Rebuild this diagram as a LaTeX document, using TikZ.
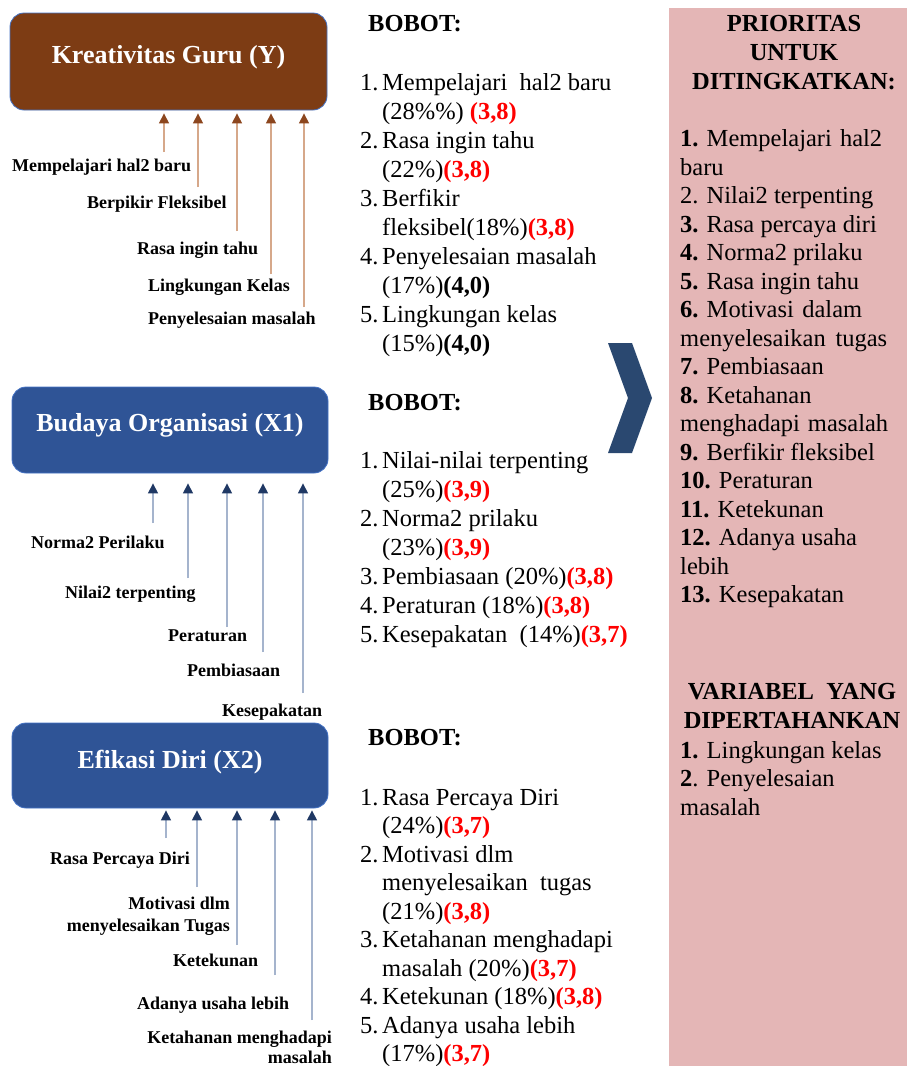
\documentclass[tikz,border=0pt]{standalone}
\usepackage{fontspec}
\setmainfont{Liberation Serif}
\usetikzlibrary{arrows.meta}
\definecolor{brownfill}{RGB}{125,60,20}
\definecolor{bluefill}{RGB}{47,84,150}
\definecolor{boxedge}{RGB}{68,114,196}
\definecolor{brownhead}{RGB}{140,70,30}
\definecolor{brownline}{RGB}{214,168,138}
\definecolor{bluehead}{RGB}{31,56,100}
\definecolor{blueline}{RGB}{165,180,205}
\definecolor{chev}{RGB}{42,72,112}
\definecolor{pinkpanel}{RGB}{228,182,182}
\definecolor{valred}{RGB}{255,0,0}
\newcommand\lnum[1]{\makebox[22pt][l]{#1}}
\newcommand\lcont{\hspace*{22pt}}
\newcommand\redval[1]{\textcolor{valred}{\textbf{#1}}}
\begin{document}
\begin{tikzpicture}[x=1pt,y=-1pt,
  varbox/.style={draw=boxedge, line width=0.8pt, rounded corners=14pt, inner sep=0pt},
  boxlabel/.style={text=white, font=\fontsize{26}{30}\selectfont\bfseries, inner sep=0pt, anchor=base},
  ind/.style={font=\fontsize{18}{22}\selectfont\bfseries, inner sep=0pt, anchor=base west},
  indr/.style={font=\fontsize{18}{22}\selectfont\bfseries, inner sep=0pt, anchor=base east},
  brarr/.style={draw=brownline, line width=1.3pt, -{Triangle[length=10pt,width=10pt,color=brownhead]}},
  blarr/.style={draw=blueline, line width=1.3pt, -{Triangle[length=10pt,width=10pt,color=bluehead]}},
  bobot/.style={font=\fontsize{24.5}{29}\selectfont\bfseries, inner sep=0pt, anchor=base west},
  list/.style={font=\fontsize{24.5}{29}\selectfont, align=left, inner sep=0pt, anchor=base west},
  plist/.style={font=\fontsize{24.5}{28.5}\selectfont, align=left, inner sep=0pt, anchor=base west},
  phead/.style={font=\fontsize{24.5}{29}\selectfont\bfseries, align=center, inner sep=0pt, anchor=base},
]
\fill[white] (0,0) rectangle (907,1066);
\useasboundingbox (0,0) rectangle (907,1066);

% right panel
\node[fill=pinkpanel, minimum width=238pt, minimum height=1058pt, inner sep=0pt, anchor=north west] (panel) at (669,8) {};

% variable boxes
\node[varbox, fill=brownfill, minimum width=317pt, minimum height=97pt] (Y) at (168.5,61.5) {};
\node[boxlabel] (Ylab) at (168.5,63.5) {Kreativitas Guru (Y)};
\node[varbox, fill=bluefill, minimum width=316pt, minimum height=86pt] (X1) at (170,430) {};
\node[boxlabel] (X1lab) at (170,431.5) {Budaya Organisasi (X1)};
\node[varbox, fill=bluefill, minimum width=316pt, minimum height=85pt] (X2) at (170,765.5) {};
\node[boxlabel] (X2lab) at (170,768.5) {Efikasi Diri (X2)};

% indicators of Y
\node[ind] (y1l) at (12,171) {Mempelajari hal2 baru};
\node[ind] (y2l) at (87,208) {Berpikir Fleksibel};
\node[ind] (y3l) at (137,254) {Rasa ingin tahu};
\node[ind] (y4l) at (148,291) {Lingkungan Kelas};
\node[ind] (y5l) at (148,324) {Penyelesaian masalah};
\coordinate (y1) at (164,152);
\coordinate (y2) at (198,187);
\coordinate (y3) at (237,231);
\coordinate (y4) at (271,274);
\coordinate (y5) at (304,307);
\foreach \c in {y1,y2,y3,y4,y5}
  \draw[brarr, shorten >=3pt] (\c) -- (\c |- Y.south);

% indicators of X1
\node[ind] (a1l) at (31,548) {Norma2 Perilaku};
\node[ind] (a2l) at (65,598) {Nilai2 terpenting};
\node[ind] (a3l) at (168,641) {Peraturan};
\node[ind] (a4l) at (187,676) {Pembiasaan};
\node[ind] (a5l) at (222,716) {Kesepakatan};
\coordinate (a1) at (153,523);
\coordinate (a2) at (188,578);
\coordinate (a3) at (227,627);
\coordinate (a4) at (263,652);
\coordinate (a5) at (303,693);
\foreach \c in {a1,a2,a3,a4,a5}
  \draw[blarr, shorten >=10pt] (\c) -- (\c |- X1.south);

% indicators of X2
\node[ind] (e1l) at (50,864) {Rasa Percaya Diri};
\node[indr] (e2l) at (230,909) {Motivasi dlm};
\node[indr] (e2m) at (230,931) {menyelesaikan Tugas};
\node[ind] (e3l) at (173,966) {Ketekunan};
\node[ind] (e4l) at (137,1009) {Adanya usaha lebih};
\node[indr] (e5l) at (332,1043) {Ketahanan menghadapi};
\node[indr] (e5m) at (332,1063) {masalah};
\coordinate (e1) at (166,838);
\coordinate (e2) at (197,887);
\coordinate (e3) at (237,945);
\coordinate (e4) at (275,975);
\coordinate (e5) at (312,1020);
\foreach \c in {e1,e2,e3,e4,e5}
  \draw[blarr, shorten >=2pt] (\c) -- (\c |- X2.south);

% weights (multi-line nodes: base = baseline of last line)
\node[bobot] (b1) at (368,31) {BOBOT:};
\node[list] (w1) at (360,351) {\lnum{1.}Mempelajari\ \ hal2 baru\\
\lcont(28\%\%) \redval{(3,8)}\\
\lnum{2.}Rasa ingin tahu\\
\lcont(22\%)\redval{(3,8)}\\
\lnum{3.}Berfikir\\
\lcont fleksibel(18\%)\redval{(3,8)}\\
\lnum{4.}Penyelesaian masalah\\
\lcont(17\%)\textbf{(4,0)}\\
\lnum{5.}Lingkungan kelas\\
\lcont(15\%)\textbf{(4,0)}};

\node[bobot] (b2) at (368,410) {BOBOT:};
\node[list] (w2) at (360,642) {\lnum{1.}Nilai-nilai terpenting\\
\lcont(25\%)\redval{(3,9)}\\
\lnum{2.}Norma2 prilaku\\
\lcont(23\%)\redval{(3,9)}\\
\lnum{3.}Pembiasaan (20\%)\redval{(3,8)}\\
\lnum{4.}Peraturan (18\%)\redval{(3,8)}\\
\lnum{5.}Kesepakatan\ \ (14\%)\redval{(3,7)}};

\node[bobot] (b3) at (368,745) {BOBOT:};
\node[plist] (w3) at (360,1061.5) {\lnum{1.}Rasa Percaya Diri\\
\lcont(24\%)\redval{(3,7)}\\
\lnum{2.}Motivasi dlm\\
\lcont menyelesaikan\ \ tugas\\
\lcont(21\%)\redval{(3,8)}\\
\lnum{3.}Ketahanan menghadapi\\
\lcont masalah (20\%)\redval{(3,7)}\\
\lnum{4.}Ketekunan (18\%)\redval{(3,8)}\\
\lnum{5.}Adanya usaha lebih\\
\lcont(17\%)\redval{(3,7)}};

% chevron
\fill[chev] (608,343) -- (632,343) -- (652,398) -- (632,453) -- (608,453) -- (628,398) -- cycle;

% priorities
\node[phead] (ph) at (794,89) {PRIORITAS\\UNTUK\\DITINGKATKAN:};
\node[plist] (pl) at (680,602.5) {\makebox[202pt][l]{\textbf{1.} Mempelajari\hfill hal2}\\
baru\\
2. Nilai2 terpenting\\
\textbf{3.} Rasa percaya diri\\
\textbf{4.} Norma2 prilaku\\
\textbf{5.} Rasa ingin tahu\\
\makebox[182pt][l]{\textbf{6.} Motivasi\hfill dalam}\\
\makebox[207pt][s]{menyelesaikan tugas}\\
\textbf{7.} Pembiasaan\\
\textbf{8.} Ketahanan\\
\makebox[208pt][s]{menghadapi masalah}\\
\textbf{9.} Berfikir fleksibel\\
\textbf{10.} Peraturan\\
\textbf{11.} Ketekunan\\
\textbf{12.} Adanya usaha\\
lebih\\
\textbf{13.} Kesepakatan};

\node[phead] (vh) at (792,728.5) {VARIABEL\ \ YANG\\DIPERTAHANKAN};
\node[plist] (vl) at (680,815) {\textbf{1.} Lingkungan kelas\\
\textbf{2}. Penyelesaian\\
masalah};
\end{tikzpicture}
\end{document}
